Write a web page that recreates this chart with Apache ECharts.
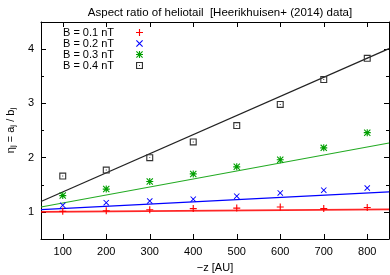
<!DOCTYPE html>
<html>
<head>
<meta charset="utf-8">
<script src="https://cdn.jsdelivr.net/npm/echarts@6/dist/echarts.min.js"></script>
<style>
html,body{margin:0;padding:0;background:#fff;}
#c{width:390px;height:275px;}
</style>
</head>
<body>
<div id="c"></div>
<script>
// ---- data ----
var distances = [100, 200, 300, 400, 500, 600, 700, 800];
var ratioB01 = [1.01, 1.02, 1.04, 1.06, 1.07, 1.09, 1.06, 1.08];
var ratioB02 = [1.12, 1.17, 1.20, 1.235, 1.29, 1.35, 1.40, 1.44];
var ratioB03 = [1.30, 1.42, 1.56, 1.70, 1.83, 1.96, 2.18, 2.46];
var ratioB04 = [1.66, 1.77, 2.00, 2.29, 2.59, 2.98, 3.44, 3.83];
var fitX = [50, 850];
var fitB01 = [1.00, 1.045];
var fitB02 = [1.04, 1.37];
var fitB03 = [1.09, 2.27];
var fitB04 = [1.19, 4.01];
var seriesNames = ['B = 0.1 nT', 'B = 0.2 nT', 'B = 0.3 nT', 'B = 0.4 nT'];
var xTicks = [100, 200, 300, 400, 500, 600, 700, 800];
var yTicks = [1, 2, 3, 4];
var yMinorTicks = [1.5, 2.5, 3.5];

function pairs(xs, ys) { return xs.map(function (x, i) { return [x, ys[i]]; }); }

var FONT = '"Liberation Sans", Arial, sans-serif';
var PLUS = 'path://M4.2,0H5.8V10H4.2Z M0,4.2H10V5.8H0Z';
var CROSS = 'path://M0,1.1L1.1,0L10,8.9L8.9,10Z M8.9,0L10,1.1L1.1,10L0,8.9Z';
var STAR = 'path://M4.2,0H5.8V10H4.2Z M0,4.2H10V5.8H0Z M0,1.1L1.1,0L10,8.9L8.9,10Z M8.9,0L10,1.1L1.1,10L0,8.9Z';
var SQUARE = 'path://M0,0H10V10H0Z M1.6,1.6V8.4H8.4V1.6Z M4.3,4.3H5.7V5.7H4.3Z';

var chart = echarts.init(document.getElementById('c'), null, {renderer: 'canvas'});

var axisLine = {show: true, lineStyle: {color: '#000', width: 1}};
function tickAxisX(pos, labels) {
  return {
    type: 'value', position: pos, min: 50, max: 850,
    axisLine: axisLine,
    axisTick: {show: true, inside: true, length: 5, customValues: xTicks, lineStyle: {color: '#000'}},
    axisLabel: labels ? {show: true, customValues: xTicks, color: '#000', fontSize: 11, fontFamily: FONT, margin: 7} : {show: false},
    splitLine: {show: false}
  };
}
function tickAxisY(pos, vals, len, labels, line) {
  return {
    type: 'value', position: pos, min: 0.5, max: 4.5,
    axisLine: line ? axisLine : {show: false},
    axisTick: {show: true, inside: true, length: len, customValues: vals, lineStyle: {color: '#000'}},
    axisLabel: labels ? {show: true, customValues: vals, color: '#000', fontSize: 11, fontFamily: FONT, margin: 7} : {show: false},
    splitLine: {show: false}
  };
}

var xA = tickAxisX('bottom', true);
xA.name = '\u2212z [AU]';
xA.nameLocation = 'middle';
xA.nameGap = 23;
xA.nameTextStyle = {color: '#000', fontSize: 11, fontFamily: FONT};

var yA = tickAxisY('left', yTicks, 5, true, true);
yA.name = '{a|\u03b7}{s|j}{a| = a}{s|j}{a| / b}{s|j}';
yA.nameLocation = 'middle';
yA.nameRotate = 90;
yA.nameGap = 23;
yA.nameTextStyle = {
  color: '#000', fontFamily: FONT,
  rich: {
    a: {fontSize: 11, fontFamily: FONT, color: '#000', lineHeight: 14},
    s: {fontSize: 8, fontFamily: FONT, color: '#000', lineHeight: 14, padding: [5, 0, 0, 0]}
  }
};

function scatter(name, ys, symbol, color, size) {
  return {
    type: 'scatter', name: name, xAxisIndex: 0, yAxisIndex: 0,
    data: pairs(distances, ys), symbol: symbol, symbolSize: size,
    itemStyle: {color: color, opacity: 1}, z: 5
  };
}
function fit(name, ys, color, width) {
  return {
    type: 'line', name: name, xAxisIndex: 0, yAxisIndex: 0,
    data: pairs(fitX, ys), showSymbol: false, symbol: 'none',
    lineStyle: {color: color, width: width}, z: 3, silent: true
  };
}

chart.setOption({
  animation: false,
  backgroundColor: '#fff',
  title: {
    text: 'Aspect ratio of heliotail  [Heerikhuisen+ (2014) data]',
    left: 215, textAlign: 'center', top: 2,
    textStyle: {fontSize: 11.5, fontWeight: 'normal', color: '#000', fontFamily: FONT}
  },
  grid: {left: 41, right: 1, top: 22, bottom: 36, containLabel: false, outerBoundsMode: 'none'},
  legend: {
    data: seriesNames, orient: 'vertical', left: 63, top: 27, padding: 0,
    align: 'right', itemWidth: 7, itemHeight: 7, itemGap: 0,
    formatter: function (n) { return '{t|' + n + '}'; },
    textStyle: {
      fontSize: 11, fontFamily: FONT, color: '#000',
      rich: {t: {width: 68, align: 'left', fontSize: 11, fontFamily: FONT, color: '#000', lineHeight: 11.4}}
    }
  },
  xAxis: [xA, tickAxisX('top', false)],
  yAxis: [
    yA,
    tickAxisY('right', yTicks, 5, false, true),
    tickAxisY('left', yMinorTicks, 3, false, false),
    tickAxisY('right', yMinorTicks, 3, false, false)
  ],
  series: [
    fit('fit01', fitB01, 'rgba(255,0,0,0.85)', 1.8),
    fit('fit02', fitB02, '#0000ff', 1.2),
    fit('fit03', fitB03, '#22aa22', 1.2),
    fit('fit04', fitB04, '#222222', 1.2),
    scatter(seriesNames[0], ratioB01, PLUS, '#ff0000', 7),
    scatter(seriesNames[1], ratioB02, CROSS, '#0000ff', 6),
    scatter(seriesNames[2], ratioB03, STAR, '#00a000', 7),
    scatter(seriesNames[3], ratioB04, SQUARE, '#333333', 7)
  ]
});
</script>
</body>
</html>
